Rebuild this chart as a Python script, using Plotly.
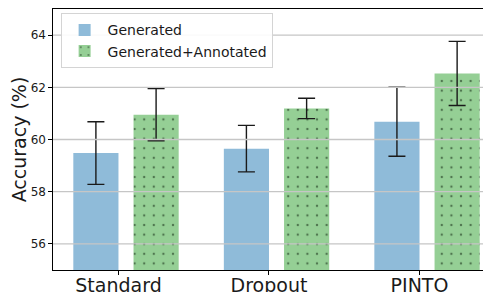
import plotly.graph_objects as go

categories = ["Standard", "Dropout", "PINTO"]
generated = [59.48, 59.65, 60.68]
generated_err = [1.2, 0.89, 1.32]
annotated = [60.95, 61.19, 62.53]
annotated_err = [1.0, 0.39, 1.23]
y_ticks = [56, 58, 60, 62, 64]

FONT = "DejaVu Sans"
ERR = dict(type="data", visible=True, color="#1a1a1a", thickness=1.4, width=8.5)

fig = go.Figure()
fig.add_trace(go.Bar(
    x=categories, y=generated, name="Generated",
    base=0, offset=-0.3, width=0.3,
    marker=dict(color="#8fbbd9", line=dict(width=0)),
    error_y=dict(array=generated_err, **ERR),
))
fig.add_trace(go.Bar(
    x=categories, y=annotated, name="Generated+Annotated",
    base=0, offset=0.1, width=0.3,
    marker=dict(color="#95cf95", line=dict(width=0),
                pattern=dict(shape=".", size=9.6, solidity=0.05,
                             fgcolor="#3f5f3f", fgopacity=0.8)),
    error_y=dict(array=annotated_err, **ERR),
))

shapes = [dict(type="line", xref="paper", yref="y", x0=0, x1=1, y0=v, y1=v,
               line=dict(color="#c6c6c6", width=1.3), layer="above")
          for v in y_ticks]

# the page body has an 8px default margin, so the figure is 8px smaller
fig.update_layout(
    width=483, height=284,
    margin=dict(l=45, r=0, t=1, b=22, autoexpand=False),
    paper_bgcolor="white", plot_bgcolor="white",
    barmode="overlay",
    font=dict(family=FONT, color="#1a1a1a"),
    shapes=shapes,
    showlegend=True,
    legend=dict(x=0.0174, y=0.9835, xanchor="left", yanchor="top",
                bgcolor="rgba(255,255,255,0.9)", bordercolor="#d4d4d4", borderwidth=1,
                font=dict(family=FONT, size=14, color="#1a1a1a"),
                itemwidth=36, tracegroupgap=0),
    xaxis=dict(range=[-0.435, 2.475], showgrid=False, showline=True, mirror=True,
               linecolor="black", linewidth=1.3, ticks="outside", ticklen=3.5,
               tickcolor="black", tickwidth=1, ticklabelstandoff=-5,
               tickfont=dict(family=FONT, size=19, color="#1a1a1a"),
               automargin=False, fixedrange=True),
    yaxis=dict(range=[55, 65], tickvals=y_ticks, showgrid=False, zeroline=False,
               showline=True, linecolor="black", linewidth=1.3,
               ticks="outside", ticklen=3.5, tickcolor="black", tickwidth=1,
               tickfont=dict(family=FONT, size=12, color="#1a1a1a"),
               title=dict(text="Accuracy (%)", font=dict(family=FONT, size=19, color="#1a1a1a"),
                          standoff=0),
               automargin=False, fixedrange=True),
)

fig.write_html("out.html")
